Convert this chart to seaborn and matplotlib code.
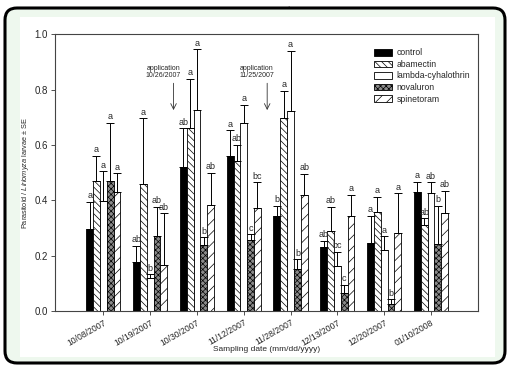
import numpy as np
import pandas as pd
import seaborn as sns
import matplotlib.pyplot as plt
from matplotlib.patches import FancyBboxPatch, Rectangle, Patch

dates = ["10/08/2007", "10/19/2007", "10/30/2007", "11/12/2007",
         "11/28/2007", "12/13/2007", "12/20/2007", "01/10/2008"]
treatments = ["control", "abamectin", "lambda-cyhalothrin", "novaluron", "spinetoram"]

# mean ratio per sampling date
control = [0.295, 0.178, 0.521, 0.560, 0.344, 0.232, 0.244, 0.431]
abamectin = [0.470, 0.458, 0.660, 0.541, 0.696, 0.290, 0.356, 0.310]
lambda_cy = [0.396, 0.120, 0.726, 0.680, 0.722, 0.162, 0.220, 0.425]
novaluron = [0.470, 0.272, 0.238, 0.256, 0.150, 0.065, 0.024, 0.241]
spinetoram = [0.430, 0.166, 0.383, 0.374, 0.419, 0.345, 0.283, 0.355]

# standard errors
control_se = [0.100, 0.058, 0.139, 0.093, 0.036, 0.021, 0.100, 0.036]
abamectin_se = [0.090, 0.238, 0.180, 0.059, 0.099, 0.087, 0.057, 0.025]
lambda_se = [0.109, 0.013, 0.219, 0.066, 0.218, 0.053, 0.050, 0.040]
novaluron_se = [0.210, 0.105, 0.028, 0.021, 0.037, 0.030, 0.018, 0.139]
spinetoram_se = [0.067, 0.187, 0.117, 0.091, 0.076, 0.075, 0.142, 0.079]

# significance letters
control_lbl = ["a", "ab", "ab", "a", "b", "ab", "a", "a"]
abamectin_lbl = ["a", "a", "a", "ab", "a", "ab", "a", "ab"]
lambda_lbl = ["a", "b", "a", "a", "a", "bc", "a", "ab"]
novaluron_lbl = ["a", "ab", "b", "c", "b", "c", "b", "b"]
spinetoram_lbl = ["a", "ab", "ab", "bc", "ab", "a", "a", "ab"]

means = [control, abamectin, lambda_cy, novaluron, spinetoram]
ses = [control_se, abamectin_se, lambda_se, novaluron_se, spinetoram_se]
letters = [control_lbl, abamectin_lbl, lambda_lbl, novaluron_lbl, spinetoram_lbl]

df = pd.DataFrame({
    "date": np.tile(dates, len(treatments)),
    "treatment": np.repeat(treatments, len(dates)),
    "ratio": np.concatenate(means),
})

sns.set_style("ticks")
plt.rcParams['font.family'] = ['Liberation Sans', 'DejaVu Sans']
plt.rcParams['mathtext.fontset'] = 'custom'
plt.rcParams['mathtext.rm'] = 'Liberation Sans'
plt.rcParams['mathtext.it'] = 'Liberation Sans:italic'
plt.rcParams['hatch.linewidth'] = 0.5

fig = plt.figure(figsize=(5.1, 3.67), dpi=100)

# outer rounded frame with mint margin
frame = FancyBboxPatch((0.05, 0.04), 5.0, 3.55,
                       boxstyle="round,pad=0,rounding_size=0.12",
                       transform=fig.dpi_scale_trans,
                       facecolor="#eef8ee", edgecolor="black", linewidth=2.2,
                       zorder=-3)
fig.add_artist(frame)
inner = Rectangle((0.20, 0.10), 4.75, 3.40, transform=fig.dpi_scale_trans,
                  facecolor="white", edgecolor="none", zorder=-2)
fig.add_artist(inner)
fig.text(0.565, 0.985, ".", fontsize=6, ha="center", va="center")

ax = fig.add_axes([0.108, 0.1526, 0.829, 0.754])
ax.set_facecolor("white")

colors = ["black", "white", "white", "#8a8a8a", "white"]
hatches = [None, "\\\\\\\\\\", None, "xxxxxx", "///"]

sns.barplot(data=df, x="date", y="ratio", hue="treatment",
            order=dates, hue_order=treatments, palette=colors, width=0.73,
            errorbar=None, edgecolor="black", linewidth=0.6, ax=ax,
            legend=False, saturation=1)

for cont, col, h, se, lab in zip(ax.containers, colors, hatches, ses, letters):
    xs = []
    tops = []
    for bar in cont:
        bar.set_facecolor(col)
        if h:
            bar.set_hatch(h)
        xs.append(bar.get_x() + bar.get_width() / 2)
        tops.append(bar.get_height())
    xs = np.array(xs)
    tops = np.array(tops)
    se = np.array(se)
    ax.errorbar(xs, tops, yerr=[np.zeros_like(se), se], fmt="none",
                ecolor="black", elinewidth=0.7, capsize=3, capthick=0.7, zorder=3)
    for x, t, s, l in zip(xs, tops, se, lab):
        ax.text(x, t + s + 0.006, l, ha="center", va="bottom", fontsize=6.5)

ax.set_xlim(-1.03, 8.0)
ax.set_ylim(0, 1.0)
ax.set_yticks(np.arange(0, 1.01, 0.2))
ax.set_yticklabels([f"{v:.1f}" for v in np.arange(0, 1.01, 0.2)], fontsize=7)
ax.set_xticks(range(len(dates)))
ax.set_xticklabels(dates, rotation=30, ha="right", rotation_mode="anchor", fontsize=6.2)
ax.tick_params(length=3, width=0.6, color="#333333", pad=2)
for s in ax.spines.values():
    s.set_visible(True)
    s.set_color("#444444")
    s.set_linewidth(0.8)

ax.set_xlabel("Sampling date (mm/dd/yyyy)", fontsize=6)
ax.xaxis.set_label_coords(0.5, -0.125)
ax.set_ylabel(r"Parasitoid / $\mathit{Liriomyza}$ larvae $\pm$ SE", fontsize=5.3)
ax.yaxis.set_label_coords(-0.057, 0.5)

# application arrows
for xa, xt, txt in [(1.5, 1.28, "application\n10/26/2007"),
                    (3.5, 3.27, "application\n11/25/2007")]:
    ax.text(xt, 0.864, txt, ha="center", va="center", fontsize=5, linespacing=1.1)
    ax.annotate("", xy=(xa, 0.726), xytext=(xa, 0.823),
                arrowprops=dict(arrowstyle="->", lw=0.6, color="#333333",
                                shrinkA=0, shrinkB=0))

handles = [Patch(facecolor=c, edgecolor="black", hatch=h, linewidth=0.6)
           for c, h in zip(colors, hatches)]
ax.legend(handles, treatments, loc="upper left", bbox_to_anchor=(0.745, 0.962),
          frameon=False, fontsize=6.2, handlelength=2.2, handleheight=0.8,
          labelspacing=0.3, handletextpad=0.5, borderaxespad=0)

fig.savefig("out.png", dpi=100)
